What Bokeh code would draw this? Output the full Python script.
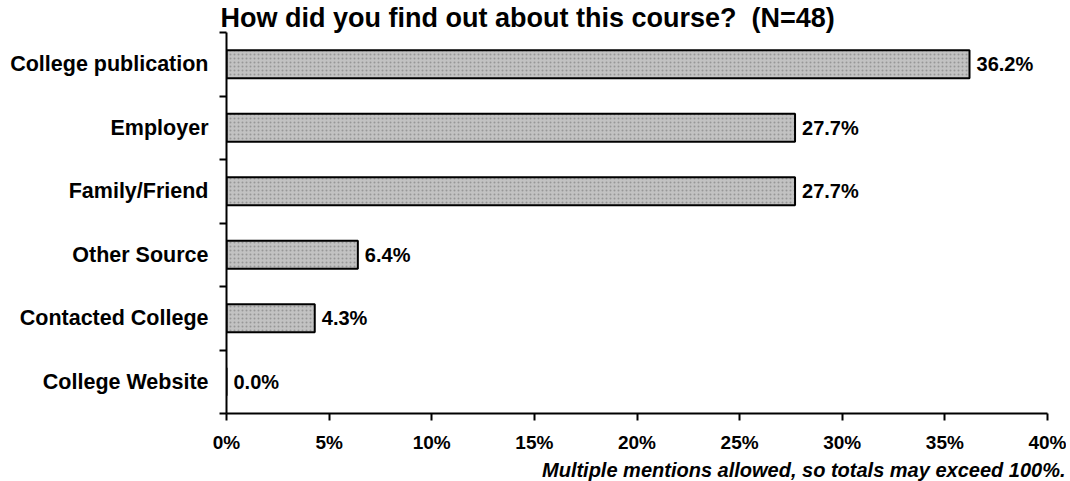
from bokeh.plotting import figure
from bokeh.models import Range1d, FixedTicker, Title, ColumnDataSource
from bokeh.core.properties import value
from bokeh.embed import file_html
from bokeh.resources import INLINE

categories = ["College publication", "Employer", "Family/Friend",
              "Other Source", "Contacted College", "College Website"]
percents = [36.2, 27.7, 27.7, 6.4, 4.3, 0.0]
x_ticks = [0, 5, 10, 15, 20, 25, 30, 35, 40]
x_tick_labels = ["0%", "5%", "10%", "15%", "20%", "25%", "30%", "35%", "40%"]
title_text = "How did you find out about this course?\u00a0 (N=48)"
footnote_text = "Multiple mentions allowed, so totals may exceed 100%."

FONT = "Liberation Sans"
n = len(categories)
ypos = [n - i - 0.5 for i in range(n)]

src = ColumnDataSource(dict(
    y=ypos, v=percents,
    lab=[f"{v:.1f}%" for v in percents],
))

p = figure(width=1066, height=481, output_backend="svg", toolbar_location=None,
           x_range=Range1d(0, 40), y_range=Range1d(0, n),
           min_border_left=226, min_border_right=19, min_border_top=31,
           min_border_bottom=68)
p.outline_line_color = None
p.xgrid.visible = False
p.ygrid.visible = False
p.background_fill_color = "white"
p.border_fill_color = "white"

p.hbar(y="y", right="v", left=0, height=0.44, source=src,
       fill_color="#c2c2c2", line_color="black", line_width=2,
       hatch_pattern="dot", hatch_color="#7a7a7a", hatch_scale=4,
       hatch_weight=1.2, hatch_alpha=0.6)

p.text(x="v", y="y", text="lab", source=src, x_offset=7,
       text_font=value(FONT), text_font_style="bold", text_font_size="20px",
       text_baseline="middle", text_align="left", text_color="black")

# x axis
xa = p.xaxis[0]
xa.ticker = FixedTicker(ticks=x_ticks)
xa.major_label_overrides = {t: l for t, l in zip(x_ticks, x_tick_labels)}
xa.axis_line_width = 2
xa.major_tick_line_width = 2
xa.major_tick_out = 7
xa.major_tick_in = 0
xa.minor_tick_out = 0
xa.minor_tick_in = 0
xa.major_label_standoff = 11
xa.major_label_text_font = FONT
xa.major_label_text_font_style = "bold"
xa.major_label_text_font_size = "19px"
xa.major_label_text_color = "black"

# y axis
ya = p.yaxis[0]
ya.ticker = FixedTicker(ticks=ypos, minor_ticks=list(range(n + 1)))
ya.major_label_overrides = {y: c for y, c in zip(ypos, categories)}
ya.axis_line_width = 2
ya.major_tick_out = 0
ya.major_tick_in = 0
ya.minor_tick_out = 7
ya.minor_tick_in = 0
ya.minor_tick_line_width = 2
ya.major_label_standoff = 11
ya.major_label_text_font = FONT
ya.major_label_text_font_style = "bold"
ya.major_label_text_font_size = "21.5px"
ya.major_label_text_color = "black"

p.title = Title(text=title_text, align="left", offset=-6, standoff=0,
                text_font=FONT, text_font_style="bold",
                text_font_size="27px", text_color="black")

p.add_layout(Title(text=footnote_text, align="right", offset=-18, standoff=2,
                   text_font=FONT, text_font_style="bold italic",
                   text_font_size="20px", text_color="black"), "below")

open("out.html", "w").write(file_html(p, INLINE))
